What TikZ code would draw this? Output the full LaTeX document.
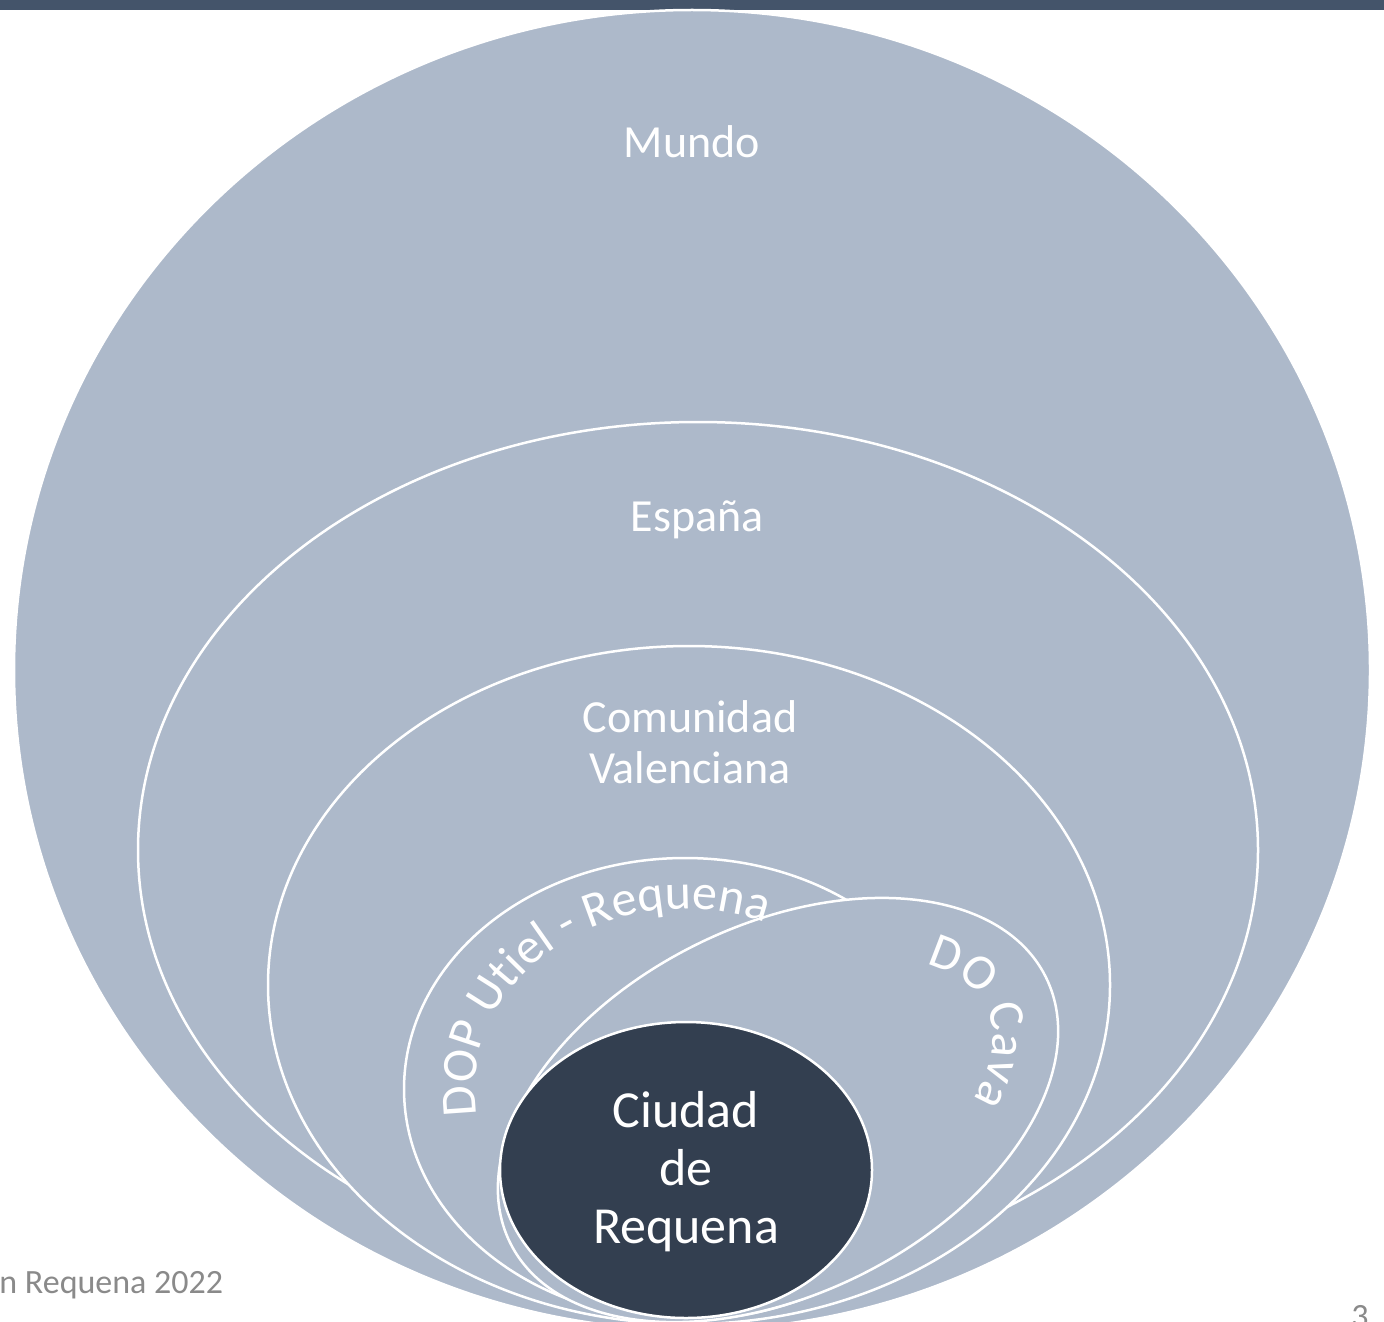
\documentclass[tikz,border=0pt]{standalone}
\usepackage{fontspec}
\setmainfont{Carlito}
\usetikzlibrary{decorations.text}
\definecolor{ringfill}{HTML}{ADB9CA}
\definecolor{coreblue}{HTML}{333F50}
\definecolor{topbar}{HTML}{44546A}
\definecolor{footgray}{HTML}{8A8A8A}
\begin{document}
\begin{tikzpicture}[x=0.5pt,y=0.5pt,
  ring/.style={fill=ringfill, draw=white, line width=1.25pt},
  core/.style={fill=coreblue, draw=white, line width=1.25pt},
  lbl/.style={text=white, font=\fontsize{23}{25.5}\selectfont, align=center, inner sep=0pt},
  corelbl/.style={text=white, font=\fontsize{26}{29}\selectfont, align=center, inner sep=0pt},
  foot/.style={text=footgray, font=\fontsize{17}{17}\selectfont, inner sep=0pt},
]
\useasboundingbox (0,0) rectangle (1384,-1321);
\begin{scope}
\clip (0,0) rectangle (1384,-1321);
% header band
\fill[topbar] (0,0) rectangle (1384,-10.5);
% nested regions, largest first
\draw[ring] (692,-670) ellipse [x radius=678, y radius=660];
\draw[ring] (698,-850) ellipse [x radius=560, y radius=428];
\draw[ring] (689,-985) ellipse [x radius=421, y radius=339];
\draw[ring] (685,-1089) ellipse [x radius=281, y radius=231];
\draw[ring, rotate around={26.4:(778,-1110)}] (778,-1110) ellipse [x radius=299, y radius=184.5];
\draw[core] (686,-1170) ellipse [x radius=186, y radius=148];
% curved labels
\path[decorate, decoration={text along path, text align=center,
    text={|\color{white}\fontsize{25}{25}\selectfont|DOP Utiel - Requena}}]
  (685,-1089) ++(224:210 and 180) arc[start angle=224, end angle=34, x radius=210, y radius=180];
\path[rotate around={26.4:(778,-1110)}, decorate, decoration={text along path, text align=center,
    text={|\color{white}\fontsize{25}{25}\selectfont|DO Cava}}]
  (778,-1110) ++(60:232 and 122) arc[start angle=60, end angle=-66, x radius=232, y radius=122];
% straight labels
\node[lbl] (mundo) at (692,-142) {Mundo};
\node[lbl] (espana) at (697,-520) {España};
\node[lbl] (comunidad) at (690,-742) {Comunidad\\Valenciana};
\node[corelbl] (ciudad) at (686,-1172) {Ciudad\\de\\Requena};
% footer
\node[foot, anchor=base west] (source) at (-1,-1293) {n Requena 2022};
\node[foot, anchor=base] (page) at (1360,-1327) {3};
\end{scope}
\end{tikzpicture}
\end{document}
